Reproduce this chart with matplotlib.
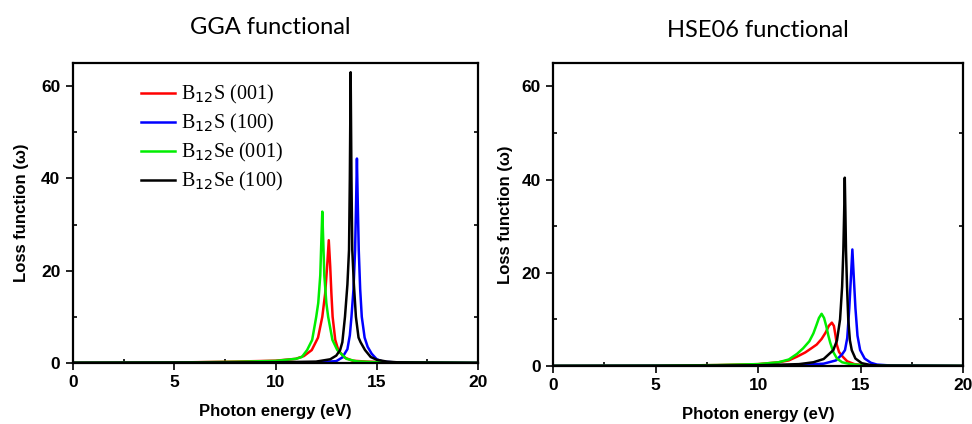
import matplotlib
matplotlib.use("Agg")
import matplotlib.pyplot as plt
from matplotlib.ticker import MultipleLocator
from matplotlib.font_manager import FontProperties

# ---------------- data ----------------
labels = ["B$_{12}$S (001)", "B$_{12}$S (100)", "B$_{12}$Se (001)", "B$_{12}$Se (100)"]
colors = ["#ff0000", "#0000ff", "#00ee00", "#000000"]

# GGA functional
gga_s001_x = [0, 5, 8, 10, 11, 11.4, 11.79, 12.1, 12.31, 12.45, 12.55, 12.63, 12.7, 12.76, 12.82, 12.95, 13.1, 13.4, 13.8, 14.5, 16, 20]
gga_s001_y = [0.05, 0.1, 0.3, 0.5, 0.9, 1.5, 2.8, 5.5, 10.0, 15.0, 21.0, 26.6, 21.0, 15.0, 10.0, 5.0, 2.8, 1.2, 0.5, 0.3, 0.08, 0.02]

gga_s100_x = [0, 10, 12, 13.0, 13.3, 13.55, 13.67, 13.75, 13.85, 13.93, 13.98, 14.02, 14.06, 14.11, 14.18, 14.26, 14.4, 14.55, 14.75, 15.0, 15.3, 16, 20]
gga_s100_y = [0.02, 0.1, 0.15, 0.4, 1.2, 3.0, 6.0, 10.0, 16.0, 24.5, 35.0, 44.3, 35.0, 24.5, 16.0, 10.0, 5.5, 3.5, 2.0, 0.8, 0.3, 0.1, 0.02]

gga_se001_x = [0, 5, 8, 10, 11.0, 11.3, 11.56, 11.81, 12.01, 12.11, 12.21, 12.26, 12.31, 12.36, 12.41, 12.51, 12.6, 12.81, 13.05, 13.5, 14, 15, 20]
gga_se001_y = [0.05, 0.1, 0.25, 0.45, 0.9, 1.3, 2.8, 5.0, 10.0, 13.0, 19.0, 26.0, 32.8, 26.0, 19.0, 13.0, 10.0, 5.0, 2.8, 0.9, 0.35, 0.15, 0.02]

gga_se100_x = [0, 5, 10, 12, 12.7, 13.0, 13.19, 13.3, 13.43, 13.55, 13.63, 13.67, 13.71, 13.75, 13.79, 13.87, 13.97, 14.1, 14.2, 14.42, 14.7, 15.0, 15.5, 16, 20]
gga_se100_y = [0.05, 0.1, 0.15, 0.3, 0.8, 1.6, 2.8, 4.5, 10.0, 17.0, 24.5, 40.0, 63.0, 40.0, 24.5, 17.0, 10.0, 5.5, 4.5, 2.8, 1.3, 0.7, 0.3, 0.15, 0.02]

# HSE06 functional
hse_s001_x = [0, 5, 8, 10, 11, 11.5, 11.9, 12.3, 12.6, 12.86, 13.1, 13.3, 13.45, 13.6, 13.7, 13.78, 13.84, 13.95, 14.13, 14.35, 14.7, 15.2, 16, 20]
hse_s001_y = [0.02, 0.05, 0.2, 0.4, 0.8, 1.2, 2.0, 2.9, 3.8, 4.6, 5.8, 7.2, 8.6, 9.3, 8.6, 6.5, 4.6, 3.0, 2.0, 1.0, 0.4, 0.15, 0.05, 0.02]

hse_s100_x = [0, 10, 12, 13.2, 13.8, 14.1, 14.24, 14.35, 14.45, 14.53, 14.6, 14.67, 14.75, 14.85, 14.98, 15.2, 15.5, 15.8, 16.5, 20]
hse_s100_y = [0.02, 0.1, 0.2, 0.5, 1.2, 2.5, 3.4, 6.0, 12.4, 19.0, 25.0, 19.0, 12.4, 6.5, 3.4, 1.6, 0.7, 0.3, 0.1, 0.02]

hse_se001_x = [0, 5, 8, 10, 11, 11.5, 11.9, 12.2, 12.5, 12.7, 12.85, 12.97, 13.1, 13.22, 13.33, 13.43, 13.52, 13.67, 13.85, 14.1, 14.5, 15, 16, 20]
hse_se001_y = [0.02, 0.05, 0.2, 0.4, 0.8, 1.4, 2.6, 3.8, 5.3, 7.0, 8.8, 10.3, 11.2, 10.3, 8.5, 6.5, 5.0, 3.0, 1.6, 0.8, 0.4, 0.2, 0.05, 0.02]

hse_se100_x = [0, 5, 10, 12, 12.7, 13.2, 13.67, 13.85, 14.0, 14.1, 14.16, 14.2, 14.23, 14.26, 14.29, 14.34, 14.4, 14.48, 14.57, 14.75, 15.06, 15.5, 16, 20]
hse_se100_y = [0.02, 0.05, 0.15, 0.4, 0.8, 1.5, 3.4, 5.5, 10.0, 17.0, 24.8, 33.0, 40.4, 33.0, 24.8, 17.0, 10.0, 5.5, 3.4, 1.6, 0.6, 0.2, 0.1, 0.02]

gga_series = [(gga_s001_x, gga_s001_y), (gga_s100_x, gga_s100_y), (gga_se001_x, gga_se001_y), (gga_se100_x, gga_se100_y)]
hse_series = [(hse_s001_x, hse_s001_y), (hse_s100_x, hse_s100_y), (hse_se001_x, hse_se001_y), (hse_se100_x, hse_se100_y)]

titles = ["GGA functional", "HSE06 functional"]
xlabel = "Photon energy (eV)"
ylabel = "Loss function (\u03c9)"

# ---------------- figure ----------------
fig = plt.figure(figsize=(9.72, 4.24), dpi=100)
ax1 = fig.add_axes([0.0751, 0.1439, 0.4167, 0.7075])
ax2 = fig.add_axes([0.569, 0.1368, 0.4218, 0.7146])

sans_bold = ["Liberation Sans Narrow", "Liberation Sans", "DejaVu Sans"]
tick_fp = FontProperties(family=sans_bold, weight="bold", size=12.5)
label_font = dict(family=sans_bold, weight="bold", size=12)

for ax, series in ((ax1, gga_series), (ax2, hse_series)):
    for (x, y), c, lab in zip(series, colors, labels):
        ax.plot(x, y, color=c, lw=1.8, label=lab, solid_joinstyle="round")
    ax.set_xlim(0, 20)
    ax.set_ylim(0, 65)
    ax.xaxis.set_major_locator(MultipleLocator(5))
    ax.xaxis.set_minor_locator(MultipleLocator(2.5))
    ax.yaxis.set_major_locator(MultipleLocator(20))
    ax.yaxis.set_minor_locator(MultipleLocator(10))
    ax.tick_params(which="both", width=1.2, top=False)
    ax.tick_params(which="major", direction="out", length=5, pad=4, right=False)
    ax.tick_params(which="minor", direction="in", length=3, right=True)
    for sp in ax.spines.values():
        sp.set_linewidth(1.6)
    for t in ax.get_xticklabels() + ax.get_yticklabels():
        t.set_fontproperties(tick_fp)

ax1.set_xlabel(xlabel, fontdict=label_font, labelpad=10)
ax2.set_xlabel(xlabel, fontdict=label_font, labelpad=9.5)
ax1.set_ylabel(ylabel, fontdict=label_font, labelpad=8.5)
ax2.set_ylabel(ylabel, fontdict=label_font, labelpad=6)

fig.text(0.278, 0.936, titles[0], ha="center", va="center", fontsize=17, family=["Lato", "DejaVu Sans"])
fig.text(0.780, 0.929, titles[1], ha="center", va="center", fontsize=17, family=["Lato", "DejaVu Sans"])

ax1.legend(loc="upper left", bbox_to_anchor=(0.123, 0.993), frameon=False,
           prop=dict(family=["Liberation Serif", "DejaVu Serif"], size=14.5),
           handlelength=1.7, handletextpad=0.3, labelspacing=0.3)

fig.savefig("out.png", dpi=100)
